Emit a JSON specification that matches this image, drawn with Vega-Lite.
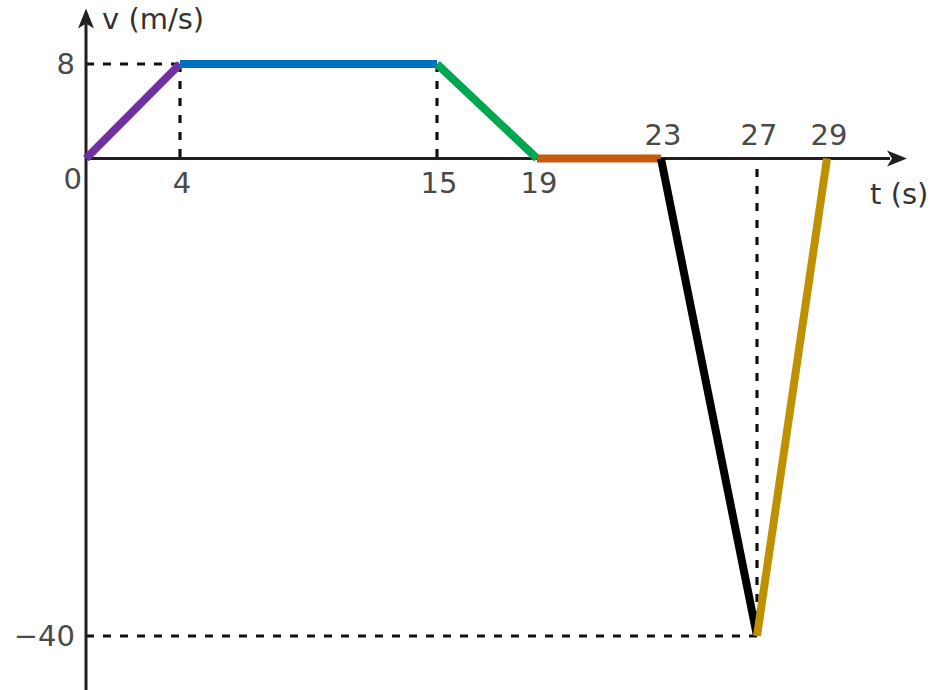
{
  "$schema": "https://vega.github.io/schema/vega-lite/v6.json",
  "width": 937,
  "height": 690,
  "padding": 0,
  "autosize": "none",
  "background": "white",
  "config": {"view": {"stroke": null}},
  "datasets": {
    "axes": [
      {"name": "t", "t": 0, "v": 0, "t2": 30.8, "v2": 0},
      {"name": "v", "t": 0, "v": -46, "t2": 0, "v2": 11.4}
    ],
    "arrows": [
      {"name": "t", "t": 31.0, "v": 0},
      {"name": "v", "t": 0, "v": 11.85}
    ],
    "guides": [
      {"t": 0, "v": 8, "t2": 4, "v2": 8},
      {"t": 4, "v": 8, "t2": 4, "v2": 0},
      {"t": 15, "v": 8, "t2": 15, "v2": 0},
      {"t": 0, "v": -40, "t2": 27, "v2": -40},
      {"t": 27, "v": -40, "t2": 27, "v2": 0}
    ],
    "segments": [
      {"segment": "0-4 s", "t": 0, "v": 0, "t2": 4, "v2": 8},
      {"segment": "4-15 s", "t": 4, "v": 8, "t2": 15, "v2": 8},
      {"segment": "15-19 s", "t": 15, "v": 8, "t2": 19, "v2": 0},
      {"segment": "19-23 s", "t": 19, "v": 0, "t2": 23, "v2": 0},
      {"segment": "23-27 s", "t": 23, "v": 0, "t2": 27, "v2": -40},
      {"segment": "27-29 s", "t": 27, "v": -40, "t2": 29, "v2": 0}
    ],
    "xbelow": [
      {"label": "4", "t": 4, "v": 0},
      {"label": "15", "t": 15, "v": 0},
      {"label": "19", "t": 19, "v": 0}
    ],
    "xabove": [
      {"label": "23", "t": 23, "v": 0},
      {"label": "27", "t": 27, "v": 0},
      {"label": "29", "t": 29, "v": 0}
    ],
    "ylabels": [
      {"label": "8", "t": 0, "v": 8},
      {"label": "−40", "t": 0, "v": -40}
    ],
    "origin": [
      {"label": "0", "t": 0, "v": 0}
    ],
    "vtitle": [
      {"label": "v (m/s)", "t": 0, "v": 11.73}
    ],
    "ttitle": [
      {"label": "t (s)", "t": 30.23, "v": -3.06}
    ]
  },
  "encoding": {
    "x": {
      "field": "t",
      "type": "quantitative",
      "axis": null,
      "scale": {
        "domain": [0, 4, 15, 19, 23, 27, 29],
        "range": [86, 180, 437, 537, 661, 757, 827],
        "nice": false,
        "zero": false
      }
    },
    "y": {
      "field": "v",
      "type": "quantitative",
      "axis": null,
      "scale": {
        "domain": [-40, 0, 8],
        "range": [636, 158.5, 64],
        "nice": false,
        "zero": false
      }
    }
  },
  "layer": [
    {
      "data": {"name": "guides"},
      "mark": {"type": "rule", "stroke": "#111111", "strokeWidth": 3.2, "strokeDash": [8, 9]},
      "encoding": {"x2": {"field": "t2"}, "y2": {"field": "v2"}}
    },
    {
      "data": {"name": "axes"},
      "mark": {"type": "rule", "stroke": "#231f20", "strokeWidth": 3},
      "encoding": {"x2": {"field": "t2"}, "y2": {"field": "v2"}}
    },
    {
      "data": {"name": "arrows"},
      "mark": {"type": "point", "filled": true, "color": "#231f20", "opacity": 1, "size": 400},
      "encoding": {
        "shape": {
          "field": "name",
          "type": "nominal",
          "legend": null,
          "scale": {
            "domain": ["t", "v"],
            "range": ["M1,0L-1,-0.8L-0.5,0L-1,0.8Z", "M0,-1L-0.8,1L0,0.5L0.8,1Z"]
          }
        }
      }
    },
    {
      "data": {"name": "segments"},
      "mark": {"type": "rule", "strokeWidth": 8, "strokeCap": "butt"},
      "encoding": {
        "x2": {"field": "t2"},
        "y2": {"field": "v2"},
        "color": {
          "field": "segment",
          "type": "nominal",
          "legend": null,
          "scale": {
            "domain": ["0-4 s", "4-15 s", "15-19 s", "19-23 s", "23-27 s", "27-29 s"],
            "range": ["#7030a0", "#0070c0", "#00a651", "#c55a11", "#000000", "#bf9000"]
          }
        }
      }
    },
    {
      "data": {"name": "xbelow"},
      "mark": {"type": "text", "font": "DejaVu Sans", "fontSize": 29, "color": "#4a4a4a", "align": "center", "baseline": "middle", "dy": 25, "dx": 2},
      "encoding": {"text": {"field": "label"}}
    },
    {
      "data": {"name": "xabove"},
      "mark": {"type": "text", "font": "DejaVu Sans", "fontSize": 29, "color": "#4a4a4a", "align": "center", "baseline": "middle", "dy": -23, "dx": 2},
      "encoding": {"text": {"field": "label"}}
    },
    {
      "data": {"name": "ylabels"},
      "mark": {"type": "text", "font": "DejaVu Sans", "fontSize": 29, "color": "#4a4a4a", "align": "right", "baseline": "middle", "dx": -11, "dy": 1},
      "encoding": {"text": {"field": "label"}}
    },
    {
      "data": {"name": "origin"},
      "mark": {"type": "text", "font": "DejaVu Sans", "fontSize": 29, "color": "#4a4a4a", "align": "right", "baseline": "middle", "dx": -4, "dy": 21},
      "encoding": {"text": {"field": "label"}}
    },
    {
      "data": {"name": "vtitle"},
      "mark": {"type": "text", "font": "DejaVu Sans", "fontSize": 29, "color": "#333333", "align": "left", "baseline": "middle", "dx": 16},
      "encoding": {"text": {"field": "label"}}
    },
    {
      "data": {"name": "ttitle"},
      "mark": {"type": "text", "font": "DejaVu Sans", "fontSize": 29, "color": "#333333", "align": "left", "baseline": "middle"},
      "encoding": {"text": {"field": "label"}}
    }
  ]
}
